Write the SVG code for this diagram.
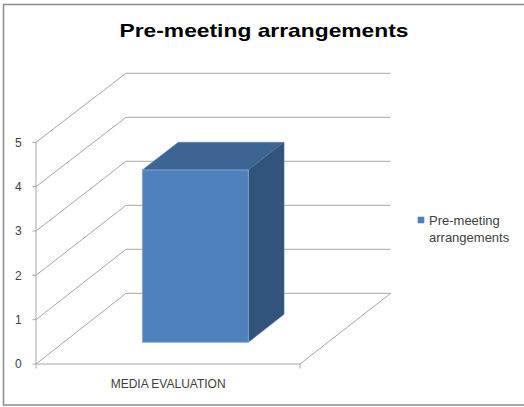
<svg xmlns="http://www.w3.org/2000/svg" width="524" height="407" viewBox="0 0 524 407">
<style>
.grid{stroke:#a6a6a6;stroke-width:1;fill:none}
.lbl{font-family:"Liberation Sans",Arial,sans-serif;fill:#404040}
.title{font-family:"Liberation Sans",Arial,sans-serif;font-weight:bold;fill:#000}
</style>
<rect x="0" y="0" width="524" height="407" fill="#ffffff"/>
<rect x="3.5" y="4.5" width="530" height="400.5" fill="#ffffff" stroke="#8c8c8c" stroke-width="1.5"/>
<text class="title" x="264" y="37.3" font-size="19" text-anchor="middle" textLength="289" lengthAdjust="spacingAndGlyphs">Pre-meeting arrangements</text>
<g id="connectors">
<path class="grid" d="M36,364 L126,293.3 L390.7,293.3 M36,319.7 L126,249.3 L390.7,249.3 M36,275.3 L126,205.3 L390.7,205.3 M36,231 L126,161.3 L390.7,161.3 M36,186.7 L126,117.3 L390.7,117.3 M36,142.3 L126,73.3 L390.7,73.3"/>
<path class="grid" d="M36,142.3 L36,364 L300,364 L390.7,293.3 M32.5,364 H36 M32.5,319.7 H36 M32.5,275.3 H36 M32.5,231 H36 M32.5,186.7 H36 M32.5,142.3 H36 M36,364 V368.5 M300,364 V368.5"/>
</g>
<g id="axis-labels">
<text class="lbl" x="21.7" y="368.3" font-size="12" text-anchor="end">0</text>
<text class="lbl" x="21.7" y="324" font-size="12" text-anchor="end">1</text>
<text class="lbl" x="21.7" y="279.6" font-size="12" text-anchor="end">2</text>
<text class="lbl" x="21.7" y="235.3" font-size="12" text-anchor="end">3</text>
<text class="lbl" x="21.7" y="191" font-size="12" text-anchor="end">4</text>
<text class="lbl" x="21.7" y="146.6" font-size="12" text-anchor="end">5</text>
<text class="lbl" x="110.7" y="387.7" font-size="12">MEDIA EVALUATION</text>
</g>
<g id="bar">
<polygon points="142.3,170 178.3,142.3 284,142.3 248.3,170" fill="#3c6594" stroke="#5a7fae" stroke-width="0.6"/>
<polygon points="248.3,170 284,142.3 284,314.3 248.3,342.3" fill="#32537b" stroke="#4a6d99" stroke-width="0.6"/>
<rect x="142.3" y="170" width="106" height="172.3" fill="#4f81bd" stroke="#8aaad3" stroke-width="0.8"/>
</g>
<g id="legend">
<rect x="417.7" y="216.7" width="6.6" height="6.6" fill="#4f81bd"/>
<text class="lbl" x="429" y="225" font-size="13">Pre-meeting</text>
<text class="lbl" x="429" y="241.7" font-size="13">arrangements</text>
</g>
</svg>
